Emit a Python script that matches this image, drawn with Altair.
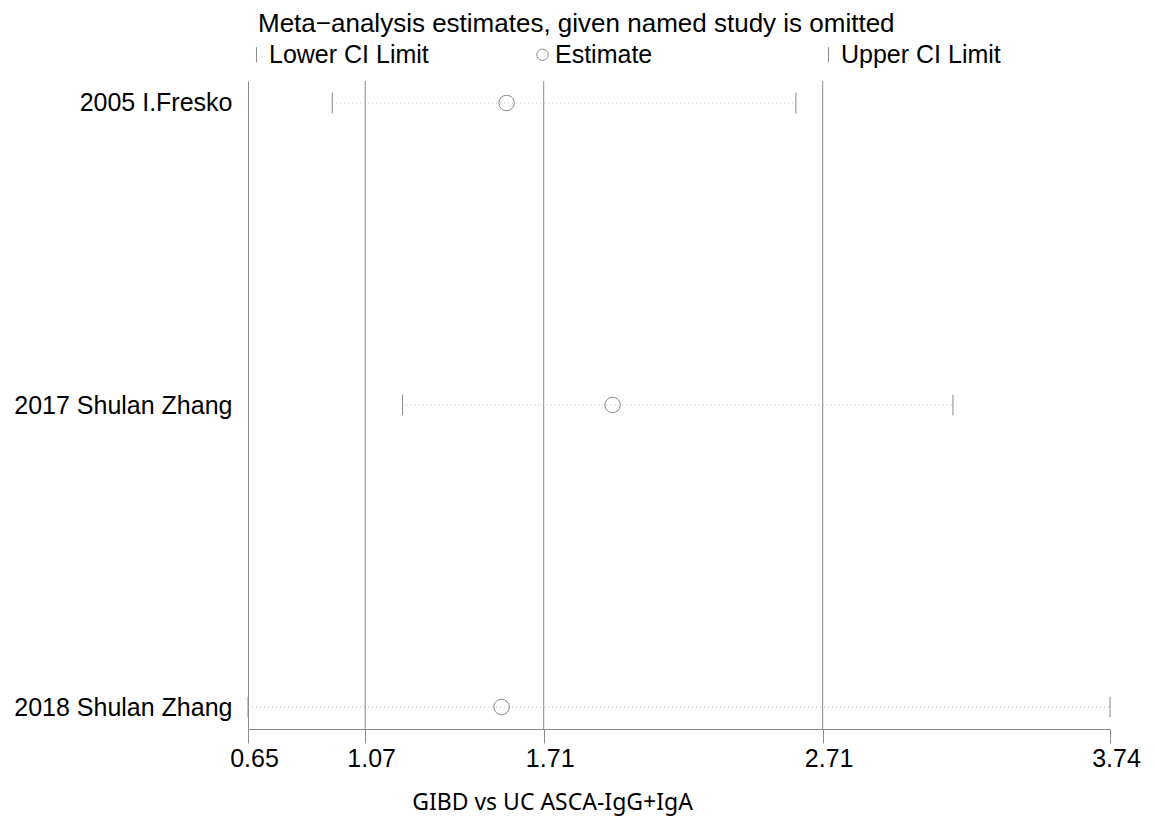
import altair as alt
import pandas as pd

studies = ["2005 I.Fresko", "2017 Shulan Zhang", "2018 Shulan Zhang"]
lower = [0.952, 1.204, 0.65]
estimate = [1.577, 1.957, 1.559]
upper = [2.614, 3.177, 3.74]
overall = [1.07, 1.71, 2.71]
x_ticks = [0.65, 1.07, 1.71, 2.71, 3.74]

df = pd.DataFrame({
    "study": studies,
    "Lower CI Limit": lower,
    "Estimate": estimate,
    "Upper CI Limit": upper,
})
ref = pd.DataFrame({"v": overall})

FONT = "Liberation Sans"
GRAY = "#8a8a8a"

xscale = alt.Scale(domain=[0.65, 3.74], nice=False, zero=False)
yscale = alt.Scale(type="point", padding=0.0728, domain=studies)

xaxis = alt.Axis(
    values=x_ticks, format=".2f", grid=False, tickSize=14, tickColor=GRAY,
    domainColor=GRAY, labelFontSize=25, labelFont=FONT, labelColor="black",
    labelPadding=3, labelFlush=False, labelOffset=6,
    title="GIBD vs UC ASCA-IgG+IgA", titleFont="Noto Sans",
    titleFontSize=23, titleFontWeight="normal", titleColor="black",
    titleX=304, titleY=62, titleAlign="center", titleBaseline="top",
)
yaxis = alt.Axis(
    title=None, ticks=False, grid=False, domainColor=GRAY, labelFontSize=25,
    labelFont=FONT, labelColor="black", labelPadding=16, labelLimit=400,
)

refs = alt.Chart(ref).mark_rule(color=GRAY, strokeWidth=1).encode(
    x=alt.X("v:Q", scale=xscale, axis=xaxis)
)

dots = alt.Chart(df).mark_rule(color="#b5b5b5", strokeDash=[1, 3], strokeWidth=1).encode(
    x=alt.X("Lower CI Limit:Q", scale=xscale, axis=xaxis),
    x2="Upper CI Limit:Q",
    y=alt.Y("study:N", scale=yscale, axis=yaxis, sort=studies),
)

keys = ["Lower CI Limit", "Estimate", "Upper CI Limit"]
tick_path = "M0,-1.33L0,1.33"
legend = alt.Legend(
    title=None,
    orient="none", legendX=-4, legendY=-39, direction="horizontal",
    columns=3, gridAlign="all", columnPadding=101,
    labelFont=FONT, labelFontSize=25, labelColor="black",
    labelOffset=0, labelLimit=400, symbolStrokeColor=GRAY,
    symbolStrokeWidth=1, symbolSize=130, padding=0,
)
points = alt.Chart(df).transform_fold(keys, as_=["kind", "val"]).mark_point(
    filled=False, color=GRAY, strokeWidth=1, opacity=1, size=240
).encode(
    x=alt.X("val:Q", scale=xscale, axis=xaxis),
    y=alt.Y("study:N", scale=yscale, axis=yaxis, sort=studies),
    shape=alt.Shape(
        "kind:N",
        scale=alt.Scale(domain=keys, range=[tick_path, "circle", tick_path]),
        legend=legend,
    ),
)

chart = alt.layer(refs, dots, points).properties(
    width=862, height=648,
    padding={"left": 248, "top": 81, "right": 45, "bottom": 99},
    autosize=alt.AutoSizeParams(type="none"),
    background="white",
    title=alt.TitleParams(
        "Meta\u2212analysis estimates, given named study is omitted",
        anchor="start", frame="group", dx=10, offset=5,
        font=FONT, fontSize=26, fontWeight="normal", color="black",
    ),
).configure_view(strokeWidth=0)

chart.save("out.html", embed_options={"renderer": "svg", "actions": False})
